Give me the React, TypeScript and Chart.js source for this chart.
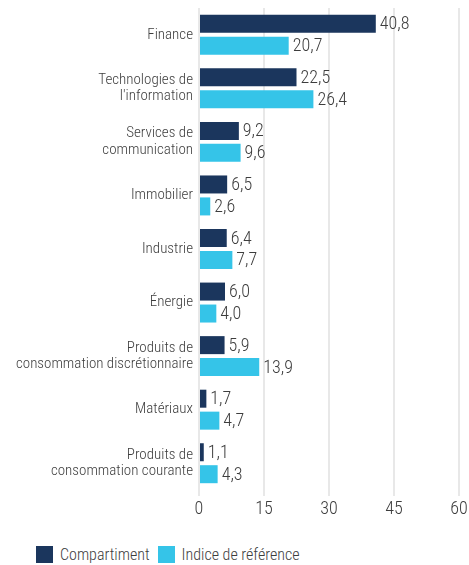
import React, { useEffect, useRef } from "react";
import { Chart, registerables } from "chart.js";

Chart.register(...registerables);

const categories: (string | string[])[] = [
  "Finance",
  ["Technologies de", "l'information"],
  ["Services de", "communication"],
  "Immobilier",
  "Industrie",
  "Énergie",
  ["Produits de", "consommation discrétionnaire"],
  "Matériaux",
  ["Produits de", "consommation courante"],
];
const fundValues = [40.8, 22.5, 9.2, 6.5, 6.4, 6.0, 5.9, 1.7, 1.1];
const indexValues = [20.7, 26.4, 9.6, 2.6, 7.7, 4.0, 13.9, 4.7, 4.3];
const xTicks = [0, 15, 30, 45, 60];
const seriesNames = ["Compartiment", "Indice de référence"];
const colors = ["#1b365d", "#35c4e8"];

const FONT = "'Roboto Condensed', sans-serif";
const WEIGHT = 300;
const TEXT = "#3d3d3d";

const valueLabels = {
  id: "valueLabels",
  afterDatasetsDraw(chart: any) {
    const ctx = chart.ctx;
    ctx.save();
    ctx.font = `${WEIGHT} 18px ${FONT}`;
    ctx.fillStyle = TEXT;
    ctx.textBaseline = "middle";
    ctx.textAlign = "left";
    chart.data.datasets.forEach((ds: any, di: number) => {
      const meta = chart.getDatasetMeta(di);
      meta.data.forEach((bar: any, i: number) => {
        const v = ds.data[i] as number;
        ctx.fillText(v.toFixed(1).replace(".", ","), bar.x + 4, bar.y + 1);
      });
    });
    ctx.restore();
  },
};

export default function App() {
  const ref = useRef<HTMLCanvasElement>(null);
  useEffect(() => {
    document.body.style.margin = "0";
    document.documentElement.style.overflow = "hidden";
    document.body.style.overflow = "hidden";
    if (!ref.current) return;
    const chart = new Chart(ref.current, {
      type: "bar",
      data: {
        labels: categories,
        datasets: [
          {
            label: seriesNames[0],
            data: fundValues,
            backgroundColor: colors[0],
            categoryPercentage: 0.82,
            barPercentage: 0.82,
          },
          {
            label: seriesNames[1],
            data: indexValues,
            backgroundColor: colors[1],
            categoryPercentage: 0.82,
            barPercentage: 0.82,
          },
        ],
      },
      options: {
        indexAxis: "y",
        animation: false,
        responsive: true,
        maintainAspectRatio: false,
        layout: { padding: { top: 0, right: 10, bottom: 0, left: 0 } },
        plugins: {
          legend: { display: false },
          tooltip: { enabled: false },
        },
        scales: {
          x: {
            min: 0,
            max: 60,
            afterBuildTicks: (scale: any) => {
              scale.ticks = xTicks.map((v) => ({ value: v }));
            },
            afterFit: (scale: any) => {
              scale.height = 33;
              scale.paddingLeft = 0;
              scale.paddingRight = 0;
            },
            grid: {
              color: "#e8e8e8",
              lineWidth: 2,
              drawTicks: true,
              tickLength: 6,
            },
            border: { display: false },
            ticks: {
              font: { family: FONT, size: 18, weight: WEIGHT },
              color: TEXT,
              padding: 3,
            },
          },
          y: {
            afterFit: (scale: any) => {
              scale.width = 191;
              scale.paddingTop = 0;
              scale.paddingBottom = 0;
            },
            grid: { display: false, drawTicks: false },
            border: { display: false },
            ticks: {
              font: { family: FONT, size: 15, weight: WEIGHT, lineHeight: 1.1 },
              color: TEXT,
              padding: 6,
            },
          },
        },
      },
      plugins: [valueLabels],
    });
    return () => chart.destroy();
  }, []);

  return (
    <div style={{ position: "relative", width: 469, height: 565, overflow: "hidden" }}>
      <div style={{ position: "absolute", left: 8, top: 8, width: 461, height: 515 }}>
        <canvas ref={ref} />
      </div>
      <div
        style={{
          position: "absolute",
          left: 36,
          top: 546,
          height: 17,
          display: "flex",
          alignItems: "center",
          fontFamily: FONT,
          fontWeight: WEIGHT,
          fontSize: 16,
          lineHeight: "17px",
          color: TEXT,
          whiteSpace: "nowrap",
        }}
      >
        {seriesNames.map((n, i) => (
          <div key={n} style={{ display: "flex", alignItems: "center", marginRight: 8 }}>
            <span
              style={{
                display: "inline-block",
                width: 17,
                height: 17,
                background: colors[i],
                marginRight: 7,
              }}
            />
            <span>{n}</span>
          </div>
        ))}
      </div>
    </div>
  );
}
